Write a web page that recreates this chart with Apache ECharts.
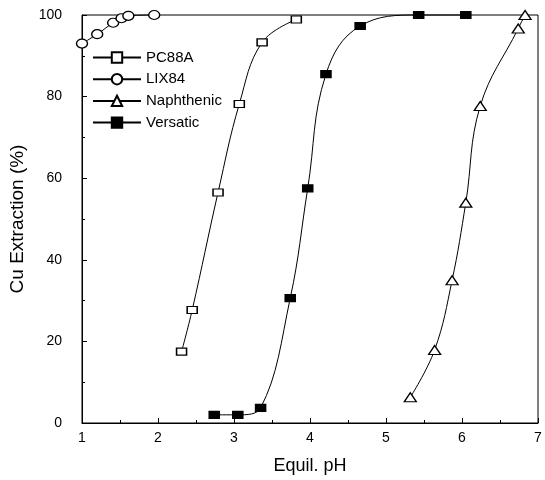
<!DOCTYPE html>
<html><head><meta charset="utf-8">
<script src="https://cdn.jsdelivr.net/npm/echarts@6/dist/echarts.min.js"></script>
<style>html,body{margin:0;padding:0;background:#fff}#c{width:545px;height:480px}</style>
</head><body><div id="c"></div>
<script>
var seriesNames = ['PC88A', 'LIX84', 'Naphthenic', 'Versatic'];
var pc88aX = [2.31, 2.45, 2.79, 3.07, 3.37, 3.82];
var pc88aY = [17.5, 27.7, 56.5, 78.2, 93.3, 98.9];
var lix84X = [1.00, 1.20, 1.41, 1.52, 1.61, 1.95];
var lix84Y = [93.0, 95.3, 98.1, 99.2, 99.8, 100];
var naphX = [5.32, 5.64, 5.87, 6.05, 6.24, 6.74, 6.83];
var naphY = [6.3, 17.9, 35.0, 54.0, 77.7, 96.7, 100];
var versX = [2.74, 3.05, 3.35, 3.74, 3.97, 4.21, 4.66, 5.43, 6.05];
var versY = [2.0, 2.0, 3.7, 30.6, 57.5, 85.5, 97.3, 100, 100];
var xTicks = [1, 2, 3, 4, 5, 6, 7];
var yTicks = [0, 20, 40, 60, 80, 100];

function pairs(xs, ys) { return xs.map(function (x, i) { return [x, ys[i]]; }); }

var font = 'Liberation Sans, Arial, sans-serif';
var chart = echarts.init(document.getElementById('c'), null, { renderer: 'canvas' });

function mk(name, xs, ys, symbol, size, fill, smooth) {
  return {
    name: name, type: 'line', data: pairs(xs, ys),
    symbol: symbol, symbolSize: size, smooth: smooth,
    showAllSymbol: true, clip: false,
    lineStyle: { color: '#000', width: 1 },
    itemStyle: { color: fill, borderColor: '#000', borderWidth: 1.3 },
    z: 3
  };
}

chart.setOption({
  animation: false,
  backgroundColor: '#fff',
  grid: { left: 82, right: 7, top: 15, bottom: 57, show: true, borderColor: '#000', borderWidth: 1 },
  legend: {
    orient: 'vertical', left: 87, top: 45,
    itemWidth: 48, itemHeight: 13, itemGap: 6.7,
    textStyle: { fontFamily: font, fontSize: 15, color: '#000' },
    data: seriesNames
  },
  xAxis: {
    type: 'value', min: xTicks[0], max: xTicks[xTicks.length - 1], interval: 1,
    name: 'Equil. pH', nameLocation: 'middle', nameGap: 34,
    nameTextStyle: { fontFamily: font, fontSize: 18, color: '#000' },
    axisLine: { lineStyle: { color: '#000', width: 1 } },
    axisTick: { inside: true, length: 5, lineStyle: { color: '#000' } },
    minorTick: { show: true, splitNumber: 2, length: 3, lineStyle: { color: '#000' } },
    axisLabel: { fontFamily: font, fontSize: 14, color: '#000', margin: 8 },
    splitLine: { show: false }
  },
  yAxis: {
    type: 'value', min: yTicks[0], max: yTicks[yTicks.length - 1], interval: 20,
    name: 'Cu Extraction (%)', nameLocation: 'middle', nameGap: 54, nameRotate: 90,
    nameTextStyle: { fontFamily: font, fontSize: 19, color: '#000' },
    axisLine: { lineStyle: { color: '#000', width: 1 } },
    axisTick: { inside: true, length: 5, lineStyle: { color: '#000' } },
    minorTick: { show: true, splitNumber: 2, length: 3, lineStyle: { color: '#000' } },
    axisLabel: { fontFamily: font, fontSize: 14, color: '#000', margin: 20 },
    splitLine: { show: false }
  },
  series: [
    mk('PC88A', pc88aX, pc88aY, 'rect', [10, 7], '#fff', 0.4),
    mk('LIX84', lix84X, lix84Y, 'circle', [11, 9], '#fff', 0.4),
    mk('Naphthenic', naphX, naphY, 'triangle', [12, 9], '#fff', 0.4),
    mk('Versatic', versX, versY, 'rect', [10, 7], '#000', 0.4)
  ]
});
</script></body></html>
